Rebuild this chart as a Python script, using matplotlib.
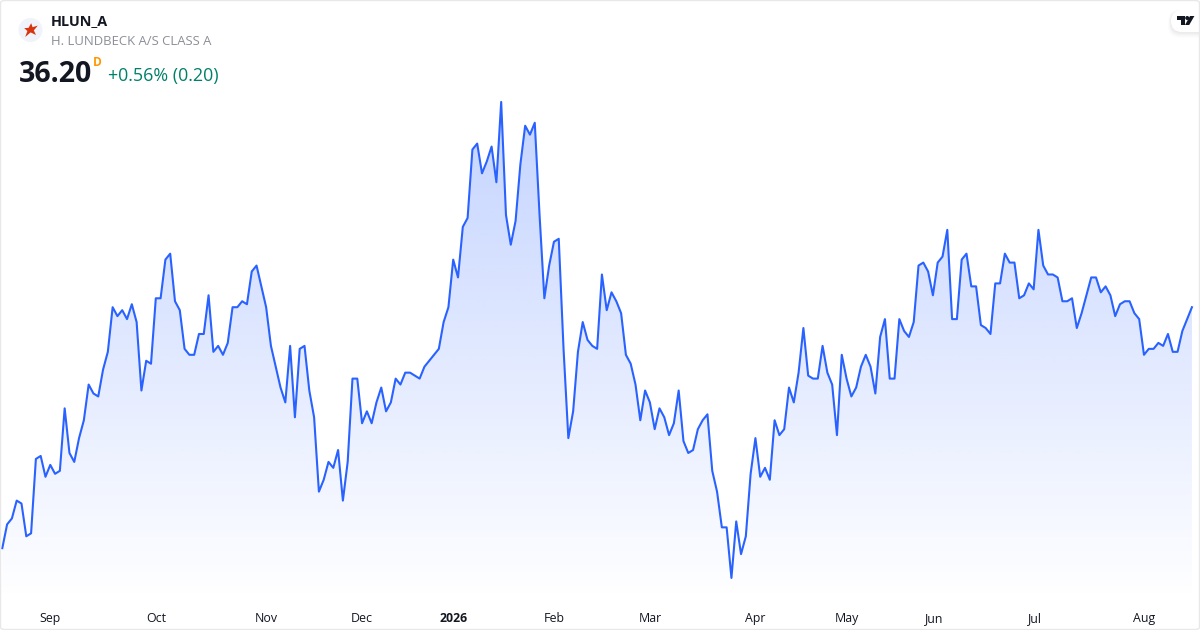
import numpy as np
import matplotlib
matplotlib.use("Agg")
import matplotlib.pyplot as plt
from matplotlib.patches import FancyBboxPatch, Circle, Polygon

plt.rcParams['font.family'] = ['Open Sans', 'DejaVu Sans']

closes = [
 32.15,32.55,32.65,32.95,32.90,32.35,32.40,33.65,33.70,33.35,
 33.55,33.40,33.45,34.50,33.75,33.60,34.00,34.30,34.90,34.75,
 34.70,35.15,35.45,36.20,36.05,36.15,36.00,36.25,35.95,34.80,
 35.30,35.25,36.35,36.35,37.00,37.10,36.30,36.15,35.50,35.40,
 35.40,35.75,35.75,36.40,35.45,35.55,35.40,35.60,36.20,36.20,
 36.30,36.25,36.80,36.90,36.55,36.20,35.55,35.20,34.85,34.60,
 35.55,34.35,35.50,35.55,34.80,34.35,33.10,33.30,33.60,33.50,
 33.80,32.95,33.60,35.00,35.00,34.25,34.45,34.25,34.60,34.85,
 34.45,34.60,35.00,34.90,35.10,35.10,35.05,35.00,35.20,35.30,
 35.40,35.50,35.95,36.20,37.00,36.70,37.55,37.70,38.85,38.95,
 38.45,38.65,38.90,38.30,39.65,37.75,37.25,37.65,38.60,39.25,
 39.10,39.30,37.75,36.35,36.90,37.30,37.35,35.50,34.00,34.45,
 35.45,35.95,35.65,35.55,35.50,36.75,36.15,36.45,36.30,36.10,
 35.40,35.25,34.90,34.30,34.80,34.60,34.15,34.50,34.35,34.05,
 34.25,34.80,33.95,33.75,33.80,34.15,34.30,34.40,33.45,33.10,
 32.50,32.50,31.65,32.60,32.05,32.35,33.40,34.00,33.35,33.50,
 33.30,34.30,34.05,34.15,34.85,34.60,35.10,35.85,35.05,35.00,
 35.00,35.55,35.10,34.90,34.05,35.40,35.00,34.70,34.85,35.20,
 35.40,35.20,34.75,35.70,36.00,35.00,35.00,36.00,35.80,35.70,
 35.95,36.90,36.95,36.80,36.40,36.95,37.05,37.50,36.00,36.00,
 37.00,37.10,36.55,36.55,35.90,35.85,35.75,36.60,36.60,37.10,
 36.95,36.95,36.35,36.40,36.60,36.50,37.50,36.90,36.75,36.75,
 36.70,36.30,36.30,36.35,35.85,36.10,36.40,36.70,36.70,36.45,
 36.55,36.40,36.05,36.25,36.30,36.30,36.10,36.00,35.40,35.50,
 35.50,35.60,35.55,35.75,35.45,35.45,35.80,36.00,36.20,
]
month_labels = ["Sep", "Oct", "Nov", "Dec", "2026", "Feb", "Mar", "Apr", "May", "Jun", "Jul", "Aug"]
month_bars = [10, 32, 55, 75, 94, 115, 135, 157, 176, 194, 215, 238]

symbol = "HLUN_A"
name = "H. LUNDBECK A/S CLASS A"
last_price = "36.20"
interval = "D"
change = "+0.56% (0.20)"

bars = np.arange(len(closes))
W, H = 1200, 630
fig = plt.figure(figsize=(12, 6.3), dpi=100, facecolor="white")
ax = fig.add_axes([0, 0, 1, 1])
xlim = (-0.48, 249.68)
ylim = (30.775, 41.363)
ax.set_xlim(*xlim)
ax.set_ylim(*ylim)
ax.axis("off")

px = lambda x, y: (x / W, 1 - y / H)

# area gradient, strongest at the top of the series and fading to the bottom
y_top = max(closes)
y_base = ylim[0] + (630 - 601) / 59.5
grad = np.ones((256, 2, 4))
grad[..., 0] = 41 / 255
grad[..., 1] = 98 / 255
grad[..., 2] = 1.0
grad[..., 3] = np.linspace(0.28, 0.0, 256)[:, None]
im = ax.imshow(grad, extent=(xlim[0], xlim[1], y_base, y_top), origin="upper",
               aspect="auto", interpolation="bilinear", zorder=1)
ax.set_xlim(*xlim)
ax.set_ylim(*ylim)
poly = ax.fill_between(bars, closes, y_base, color="none", lw=0)
path = poly.get_paths()[0]
im.set_clip_path(path, transform=ax.transData)

ax.plot(bars, closes, color="#2962FF", lw=1.5, solid_joinstyle="round", zorder=3)

# month labels
for b, lab in zip(month_bars, month_labels):
    ax.text(b, ylim[0] + (630 - 618.5) / 59.5, lab, ha="center", va="center",
            fontsize=8.9, color="#131722",
            fontweight="bold" if lab.isdigit() else "normal", zorder=5)

# frame
fig.add_artist(FancyBboxPatch((0.5 / W, 0.5 / H), (W - 1) / W, (H - 1) / H,
                              boxstyle="round,pad=0,rounding_size=0.004",
                              transform=fig.transFigure, fc="none", ec="#E8E8E8", lw=1,
                              mutation_aspect=H / W * 1.9))

# header
fig.text(*px(51, 21.5), symbol, fontsize=10.4, fontweight="bold", color="#131722", va="center", ha="left")
fig.text(*px(51, 41.5), name, fontsize=9.45, color="#8C8F98", va="center", ha="left")
fig.text(*px(19, 74), last_price, fontsize=20.5, fontweight="bold", color="#131722", va="center", ha="left")
fig.text(*px(93, 62), interval, fontsize=8.6, fontweight="bold", color="#FF9800", va="center", ha="left")
fig.text(*px(108, 75.5), change, fontsize=12.9, color="#00806A", va="center", ha="left")

# logo
overlay = fig.add_axes([0, 0, 1, 1], facecolor="none")
overlay.set_xlim(0, W)
overlay.set_ylim(H, 0)
overlay.axis("off")
overlay.add_patch(Circle((30.5, 30), 12, fc="#F0F3FA", ec="none"))
overlay.add_patch(Polygon([(31.2, 23.2), (32.6, 27.2), (37.8, 25.6), (33.8, 30.4), (36, 35),
                           (30.6, 32.4), (25.2, 37), (27.4, 31), (24.2, 28.2), (28.6, 27.8)],
                          fc="#D8340F", ec="none", zorder=3))

# TradingView badge
for i, a in zip(range(6, 0, -1), [0.006, 0.008, 0.01, 0.012, 0.016, 0.02]):
    overlay.add_patch(FancyBboxPatch((1171 - i * 0.5, 11 - i * 0.2), 60 + i, 22 + i,
                                     boxstyle="round,pad=0,rounding_size=11",
                                     fc="black", ec="none", alpha=a, zorder=4))
overlay.add_patch(FancyBboxPatch((1171, 10), 60, 22, boxstyle="round,pad=0,rounding_size=11",
                                 fc="white", ec="none", zorder=5))
overlay.add_patch(Polygon([(1176.7, 16), (1185, 16), (1185, 25), (1180.7, 25), (1180.7, 20), (1176.7, 20)],
                          fc="#131722", ec="none", zorder=6))
overlay.add_patch(Circle((1187.2, 18), 2, fc="#131722", ec="none", zorder=6))
overlay.add_patch(Polygon([(1190, 16), (1194.4, 16), (1189.2, 25), (1185, 25)],
                          fc="#131722", ec="none", zorder=6))
# mask the badge beyond the frame
overlay.add_patch(plt.Rectangle((1199, 0), 2, 50, fc="white", ec="none", zorder=7))
overlay.plot([1199.5, 1199.5], [4, 50], color="#E8E8E8", lw=1, zorder=8)

fig.savefig("out.png", dpi=100)
